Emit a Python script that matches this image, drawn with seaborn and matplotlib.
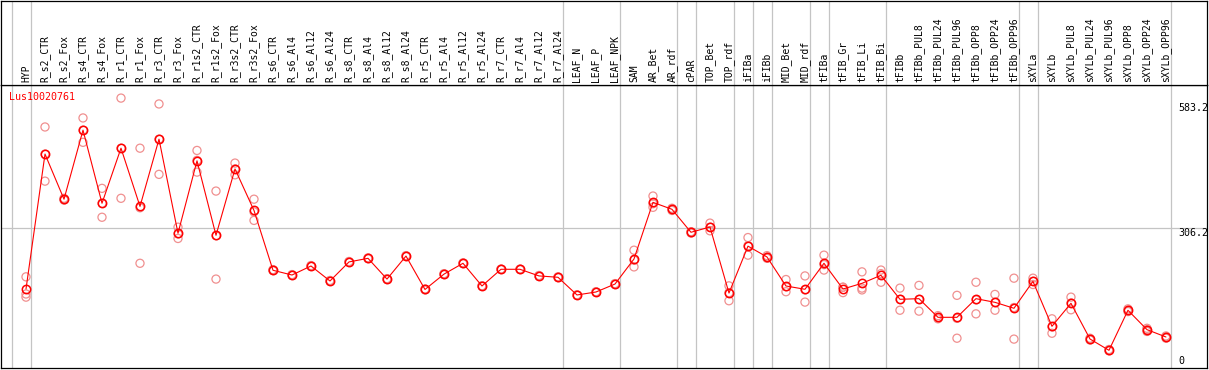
import pandas as pd
import matplotlib
matplotlib.use("Agg")
import matplotlib.pyplot as plt
import matplotlib.transforms as mtransforms
import seaborn as sns

# sample columns
samples = [
    "HYP", "R_s2_CTR", "R_s2_Fox", "R_s4_CTR", "R_s4_Fox", "R_r1_CTR", "R_r1_Fox",
    "R_r3_CTR", "R_r3_Fox", "R_r1s2_CTR", "R_r1s2_Fox", "R_r3s2_CTR", "R_r3s2_Fox",
    "R_s6_CTR", "R_s6_Al4", "R_s6_Al12", "R_s6_Al24", "R_s8_CTR", "R_s8_Al4",
    "R_s8_Al12", "R_s8_Al24", "R_r5_CTR", "R_r5_Al4", "R_r5_Al12", "R_r5_Al24",
    "R_r7_CTR", "R_r7_Al4", "R_r7_Al12", "R_r7_Al24", "LEAF_N", "LEAF_P", "LEAF_NPK",
    "SAM", "AR_Bet", "AR_rdf", "cPAR", "TOP_Bet", "TOP_rdf", "iFIBa", "iFIBb",
    "MID_Bet", "MID_rdf", "tFIBa", "tFIB_Gr", "tFIB_Li", "tFIB_Bi", "tFIBb",
    "tFIBb_PUL8", "tFIBb_PUL24", "tFIBb_PUL96", "tFIBb_OPP8", "tFIBb_OPP24",
    "tFIBb_OPP96", "sXYLa", "sXYLb", "sXYLb_PUL8", "sXYLb_PUL24", "sXYLb_PUL96",
    "sXYLb_OPP8", "sXYLb_OPP24", "sXYLb_OPP96",
]

# mean expression per sample
means = [
    171, 470, 370, 523, 361, 483, 354, 503, 294.5, 455, 290, 437, 345,
    212.5, 202, 222, 188.8, 231, 239, 193, 244, 170, 204, 228, 177.7,
    214.7, 214.7, 200, 197, 157.8, 164.4, 182, 237.5, 363, 347.6, 296.7,
    308.4, 162, 266, 242, 177.7, 170.4, 228, 171, 183.6, 201.4, 148.2,
    149.6, 108.3, 108.3, 149.6, 141.5, 128.3, 188, 88.4, 139.4, 60.3, 35.2,
    123.9, 81, 64.7,
]

# biological replicates
rep1 = [
    198, 530, 372, 550, 394, 594, 483, 581, 308, 478, 388, 450, 370,
    214, 203, 223, 190, 232, 240, 194, 245, 171, 205, 229, 178,
    215, 215, 201, 198, 158, 165, 183, 257, 377, 350, 298,
    317, 178, 285, 245, 192, 200, 246, 175, 209, 213, 173,
    179, 112, 157, 186, 159, 195, 195, 105, 153, 62, 37,
    127, 84, 67,
]
rep2 = [
    160, 470, 370, 523, 361, 483, 351, 503, 293, 456, 289, 437, 342,
    212, 202, 222, 189, 231, 239, 193, 244, 170, 204, 228, 178,
    215, 215, 200, 197, 158, 164, 182, 235, 360, 348, 297,
    308, 163, 267, 242, 176, 169, 225, 175, 173, 205, 148,
    148, 108, 106, 147, 141, 130, 188, 87, 140, 60, 35,
    124, 81, 65,
]
rep3 = [
    153, 410, 368, 496, 330, 372, 228, 425, 283, 430, 193, 424, 323,
    212, 201, 221, 188, 230, 238, 192, 243, 169, 203, 227, 177,
    214, 214, 199, 196, 157, 164, 181, 220, 352, 345, 295,
    300, 145, 246, 239, 165, 142, 213, 163, 169, 186, 124,
    122, 105, 62, 116, 124, 60, 181, 73, 125, 58, 34,
    121, 77, 62,
]

group_ends = [-1, 0, 28, 31, 34, 35, 37, 38, 39, 41, 42, 45, 52, 53, 60]
ytick_values = [583.2, 306.2, 0]
gene = "Lus10020761"

idx = list(range(len(samples)))
mean_df = pd.DataFrame({"idx": idx, "value": means})
rep_df = pd.DataFrame({
    "idx": idx * 3,
    "value": rep1 + rep2 + rep3,
})

sns.set_style("white")
plt.rcParams["font.family"] = ["DejaVu Sans Mono", "DejaVu Sans"]

W, H = 1209, 370
fig = plt.figure(figsize=(W / 100, H / 100), dpi=100)
ax = fig.add_axes([1 / W, 2 / H, 1206 / W, 283 / H])
top = fig.add_axes([1 / W, 285 / H, 1206 / W, 84 / H], sharex=ax)

xlim = (-1.316, 62.16)
ax.set_xlim(*xlim)
ax.set_ylim(-4, 623)
top.set_ylim(0, 1)

for a in (ax, top):
    for s in a.spines.values():
        s.set_color("black")
        s.set_linewidth(0.9)
    a.tick_params(left=False, bottom=False, labelleft=False, labelbottom=False)
    for g in group_ends:
        a.axvline(g + 0.24, color="#c4c4c4", lw=0.9, zorder=0)

ax.axhline(306.2, color="#c4c4c4", lw=0.9, zorder=0)

# replicates
sns.scatterplot(data=rep_df, x="idx", y="value", ax=ax, marker="o", s=34,
                facecolors="none", edgecolor="#f09090", linewidth=0.9,
                zorder=2, legend=False)

# mean profile
sns.lineplot(data=mean_df, x="idx", y="value", ax=ax, color="red", lw=0.8,
             marker="o", markersize=6, markerfacecolor="none",
             markeredgecolor="red", markeredgewidth=1.1, zorder=3)

ax.set_xlabel("")
ax.set_ylabel("")

# sample labels
for i, name in enumerate(samples):
    top.text(i, 0.03, name, rotation=90, ha="center", va="bottom",
             fontsize=7, color="black")

ax.text(8 / 1206, 0.975, gene, transform=ax.transAxes, color="red",
        fontsize=7.2, ha="left", va="top")

trans = mtransforms.blended_transform_factory(ax.transAxes, ax.transData)
for v in ytick_values:
    ax.text(1177 / 1206, v, f"{v:g}", transform=trans, fontsize=7.2,
            ha="left", va="bottom" if v == 0 else "top", color="black")

fig.savefig("out.png", dpi=100)
